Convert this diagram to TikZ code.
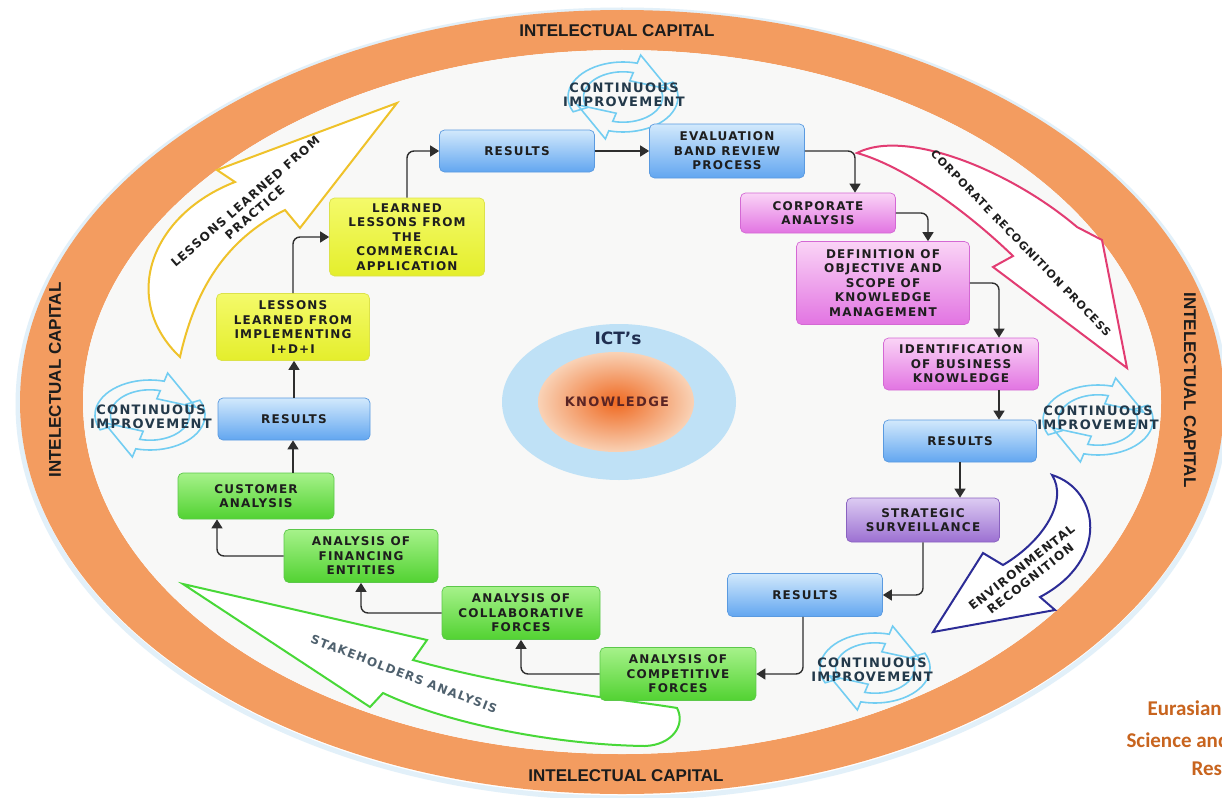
\documentclass[tikz,border=0pt]{standalone}
\usepackage{fontspec}
\usepackage{xcolor}
\usepackage{tikz}
\usetikzlibrary{arrows.meta}
\setmainfont{DejaVu Sans}
\newfontfamily\boxfont{DejaVu Sans}[LetterSpace=10]
\newfontfamily\ringfont{Liberation Sans}
\newfontfamily\journalfont{Carlito}
\definecolor{ringorange}{HTML}{F39C60}
\definecolor{innerbg}{HTML}{F8F8F7}
\definecolor{glowblue}{HTML}{E2F0F9}
\definecolor{ringtext}{HTML}{1C1C1C}
\definecolor{boxtext}{HTML}{1E1E1E}
\definecolor{bluetop}{HTML}{D2E9FC}
\definecolor{bluebottom}{HTML}{62A6F0}
\definecolor{blueline}{HTML}{5A9AE0}
\definecolor{pinktop}{HTML}{FAD4F6}
\definecolor{pinkbottom}{HTML}{E274E2}
\definecolor{pinkline}{HTML}{D468D4}
\definecolor{yellowtop}{HTML}{F4FA6A}
\definecolor{yellowbottom}{HTML}{E4EE2C}
\definecolor{yellowline}{HTML}{DCE24A}
\definecolor{greentop}{HTML}{A6F28A}
\definecolor{greenbottom}{HTML}{52D232}
\definecolor{greenline}{HTML}{5CC84A}
\definecolor{purpletop}{HTML}{DCCBF2}
\definecolor{purplebottom}{HTML}{9C70D2}
\definecolor{purpleline}{HTML}{8A62C0}
\definecolor{linkgray}{HTML}{2E2E2E}
\definecolor{yellowarrow}{HTML}{EFC22A}
\definecolor{pinkarrow}{HTML}{E23C72}
\definecolor{navyarrow}{HTML}{2C2C96}
\definecolor{greenarrow}{HTML}{48D838}
\definecolor{cycleblue}{HTML}{72CDF2}
\definecolor{cycletext}{HTML}{23394A}
\definecolor{ictblue}{HTML}{BFE1F6}
\definecolor{knowcore}{HTML}{EF6A22}
\definecolor{knowedge}{HTML}{F9D2B6}
\definecolor{knowtext}{HTML}{5A2424}
\definecolor{icttext}{HTML}{1F2E50}
\definecolor{journal}{HTML}{C8641E}
\tikzset{stage/.style={draw,rounded corners=5pt,line width=0.7pt,align=center,text=boxtext,
           font=\boxfont\bfseries\fontsize{12}{14.4}\selectfont,inner sep=3pt},
         resultstage/.style={stage,draw=blueline,top color=bluetop,bottom color=bluebottom},
         corpstage/.style={stage,draw=pinkline,top color=pinktop,bottom color=pinkbottom},
         lessonstage/.style={stage,draw=yellowline,top color=yellowtop,bottom color=yellowbottom},
         stakestage/.style={stage,draw=greenline,top color=greentop,bottom color=greenbottom},
         watchstage/.style={stage,draw=purpleline,top color=purpletop,bottom color=purplebottom},
         link/.style={draw=linkgray,line width=1.4pt,rounded corners=7pt,-{Triangle[length=9pt,width=11pt]}},
         bigarrow/.style={line width=2pt,fill=white,line join=miter},
         arrowlabel/.style={align=center,text=boxtext,font=\boxfont\bfseries\fontsize{12}{14.4}\selectfont},
         cycleline/.style={draw=cycleblue,line width=1.6pt,line join=miter},
         cycletext/.style={align=center,text=cycletext,font=\boxfont\bfseries\fontsize{13}{14.5}\selectfont},
         ringlabel/.style={text=ringtext,font=\ringfont\bfseries\fontsize{17}{20}\selectfont},
         journaltext/.style={text=journal,font=\journalfont\bfseries\fontsize{21}{24}\selectfont},
         improve/.pic={
           \begin{scope}[x=55pt,y=35pt]
             \foreach \turn in {0,180}
               \draw[cycleline,rotate=\turn] (205:1) arc[start angle=205,end angle=75,radius=1]
                 -- (75:1.24) -- (15:0.86) -- (75:0.48) -- (75:0.72)
                 arc[start angle=75,end angle=205,radius=0.72] -- cycle;
           \end{scope}
         }}

\begin{document}
\begin{tikzpicture}[x=1pt,y=-1pt]
\useasboundingbox (0,0) rectangle (1222,797);
\fill[white] (0,0) rectangle (1222,797);
\draw[glowblue,line width=5pt] (622,404) ellipse[x radius=604,y radius=394];
\fill[ringorange,even odd rule] (622,402) ellipse[x radius=602,y radius=392] (622,402) ellipse[x radius=539,y radius=352];
\fill[innerbg] (622,402) ellipse[x radius=539,y radius=352];
\node[ringlabel] (captop) at (617,31) {INTELECTUAL CAPITAL};
\node[ringlabel] (capbottom) at (626,776) {INTELECTUAL CAPITAL};
\node[ringlabel,rotate=90] (capleft) at (55,380) {INTELECTUAL CAPITAL};
\node[ringlabel,rotate=-90] (capright) at (1190,390) {INTELECTUAL CAPITAL};

\fill[ictblue] (619,402) ellipse[x radius=117,y radius=78];
\shade[inner color=knowcore,outer color=knowedge] (616,402) ellipse[x radius=78,y radius=50];
\node[text=icttext,font=\bfseries\fontsize{17}{20}\selectfont] (ict) at (618,338) {ICT's};
\node[arrowlabel,text=knowtext,font=\boxfont\bfseries\fontsize{13}{15}\selectfont] (know) at (617,402) {KNOWLEDGE};

\draw[bigarrow,draw=yellowarrow] (180,357) .. controls (120,300) and (150,215) .. (235,182) -- (217,170) -- (397,103) -- (300,228) -- (285,210) .. controls (225,240) and (195,290) .. cycle;
\node[arrowlabel,rotate=41] (practice) at (250,207) {LESSONS LEARNED FROM\\PRACTICE};
\draw[bigarrow,draw=pinkarrow] (857,153) .. controls (905,128) and (1010,170) .. (1077,227) -- (1102,240) -- (1127,368) -- (993,267) -- (1013,256) .. controls (960,205) and (900,165) .. cycle;
\node[arrowlabel,font=\boxfont\bfseries\fontsize{11}{13}\selectfont,rotate=-46] (corprec) at (1021,243) {CORPORATE RECOGNITION PROCESS};
\draw[bigarrow,draw=navyarrow] (1052,475) .. controls (1100,490) and (1110,560) .. (1040,597) -- (1055,610) -- (933,632) -- (983,553) -- (1003,565) .. controls (1045,540) and (1068,500) .. cycle;
\node[arrowlabel,rotate=38] (envrec) at (1026,573) {ENVIRONMENTAL\\RECOGNITION};
\draw[bigarrow,draw=greenarrow] (183,584) -- (427,640) -- (413,660) .. controls (520,690) and (630,700) .. (677,708) .. controls (686,725) and (672,745) .. (645,746) .. controls (560,745) and (450,725) .. (383,693) -- (370,707) -- cycle;
\node[arrowlabel,text=cycletext!80,rotate=-21] (stake) at (404,674) {STAKEHOLDERS ANALYSIS};

\pic (cyctop) at (623,97) {improve};
\pic (cycleft) at (150,415) {improve};
\pic (cycright) at (1098,420) {improve};
\pic (cycbottom) at (875,668) {improve};
\node[cycletext] (imptop) at (624,95) {CONTINUOUS\\IMPROVEMENT};
\node[cycletext] (impleft) at (151,417) {CONTINUOUS\\IMPROVEMENT};
\node[cycletext] (impright) at (1098,418) {CONTINUOUS\\IMPROVEMENT};
\node[cycletext] (impbottom) at (872,670) {CONTINUOUS\\IMPROVEMENT};

\node[resultstage,minimum width=155pt,minimum height=42pt] (res1) at (517,151) {RESULTS};
\node[resultstage,minimum width=155pt,minimum height=54pt] (evalbox) at (727,151) {EVALUATION\\BAND REVIEW\\PROCESS};
\node[corpstage,minimum width=155pt,minimum height=40pt] (corp) at (818,213) {CORPORATE\\ANALYSIS};
\node[corpstage,minimum width=173pt,minimum height=83pt] (defn) at (883,283) {DEFINITION OF\\OBJECTIVE AND\\SCOPE OF\\KNOWLEDGE\\MANAGEMENT};
\node[corpstage,minimum width=155pt,minimum height=52pt] (ident) at (961,364) {IDENTIFICATION\\OF BUSINESS\\KNOWLEDGE};
\node[resultstage,minimum width=153pt,minimum height=42pt] (res2) at (960,441) {RESULTS};
\node[watchstage,minimum width=153pt,minimum height=44pt] (strat) at (923,520) {STRATEGIC\\SURVEILLANCE};
\node[resultstage,minimum width=155pt,minimum height=43pt] (res3) at (805,595) {RESULTS};
\node[stakestage,minimum width=156pt,minimum height=53pt] (compet) at (678,674) {ANALYSIS OF\\COMPETITIVE\\FORCES};
\node[stakestage,minimum width=158pt,minimum height=53pt] (collab) at (521,613) {ANALYSIS OF\\COLLABORATIVE\\FORCES};
\node[stakestage,minimum width=154pt,minimum height=53pt] (financ) at (361,556) {ANALYSIS OF\\FINANCING\\ENTITIES};
\node[stakestage,minimum width=156pt,minimum height=46pt] (cust) at (256,496) {CUSTOMER\\ANALYSIS};
\node[resultstage,minimum width=152pt,minimum height=42pt] (res4) at (294,419) {RESULTS};
\node[lessonstage,minimum width=153pt,minimum height=67pt] (lessons) at (293,327) {LESSONS\\LEARNED FROM\\IMPLEMENTING\\I+D+I};
\node[lessonstage,minimum width=155pt,minimum height=78pt] (learned) at (407,237) {LEARNED\\LESSONS FROM\\THE\\COMMERCIAL\\APPLICATION};

\draw[link] (res4.north) -- (res4.north |- lessons.south);
\draw[link] (lessons.north) |- (learned.west);
\draw[link] (learned.north) |- (res1.west);
\draw[link] (res1.east) -- (evalbox.west);
\draw[link] (evalbox.east) -| ([xshift=37pt]corp.north);
\draw[link] (corp.east) -| ([xshift=45pt]defn.north);
\draw[link] (defn.east) -| ([xshift=38pt]ident.north);
\draw[link] ([xshift=38pt]ident.south) -- ([xshift=38pt]ident.south |- res2.north);
\draw[link] (res2.south) -- (res2.south |- strat.north);
\draw[link] (strat.south) |- (res3.east);
\draw[link] ([xshift=-2pt]res3.south) |- (compet.east);
\draw[link] (compet.west) -| (collab.south);
\draw[link] (collab.west) -| (financ.south);
\draw[link] (financ.west) -| ([xshift=-39pt]cust.south);
\draw[link] ([xshift=37pt]cust.north) -- ([xshift=37pt]cust.north |- res4.south);

\node[journaltext,anchor=base west] (journal1) at (1144,715) {Eurasian};
\node[journaltext,anchor=base west] (journal2) at (1123,747) {Science and};
\node[journaltext,anchor=base west] (journal3) at (1188,775) {Rese};
\end{tikzpicture}
\end{document}
